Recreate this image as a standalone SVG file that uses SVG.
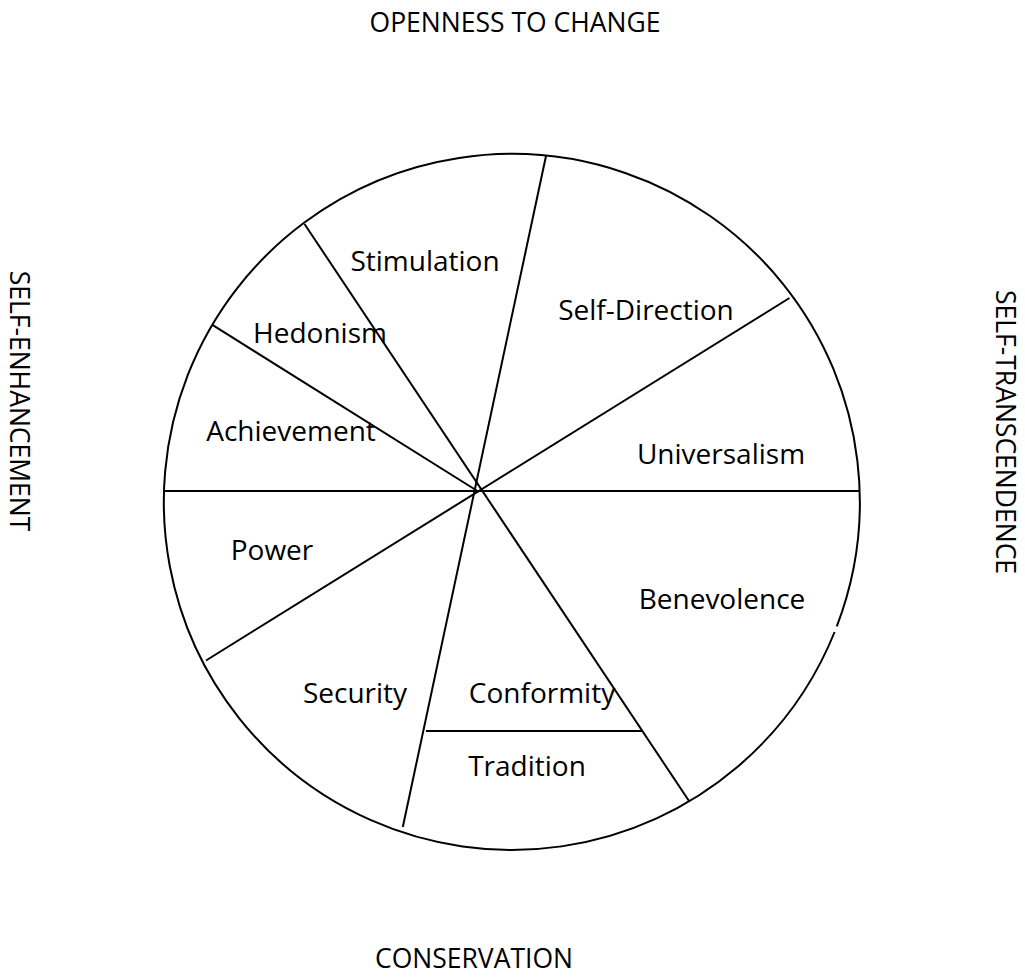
<svg xmlns="http://www.w3.org/2000/svg" width="1025" height="979" viewBox="0 0 1025 979">
  <style>
    .ln { stroke: #000; stroke-width: 2; fill: none; stroke-linecap: butt; }
    .lbl { font-family: "Open Sans", "Liberation Sans", sans-serif; font-size: 28px; fill: #000; text-anchor: middle; }
    .hdr { font-family: "Open Sans", "Liberation Sans", sans-serif; font-size: 26.5px; fill: #000; text-anchor: middle; }
  </style>
  <rect width="1025" height="979" fill="#fff"/>
  <g id="circle">
    <path class="ln" d="M 834.6 632.0 A 348 348 0 1 1 836.8 626.4"/>
  </g>
  <g id="connectors">
    <line class="ln" x1="163.7" y1="491" x2="859.3" y2="491"/>
    <line class="ln" x1="546" y1="156" x2="402.8" y2="827"/>
    <line class="ln" x1="304.5" y1="224" x2="689.2" y2="801.3"/>
    <line class="ln" x1="789.5" y1="298" x2="206" y2="660.5"/>
    <line class="ln" x1="212.4" y1="324.9" x2="479" y2="492"/>
    <line class="ln" x1="426" y1="731" x2="642.3" y2="731"/>
  </g>
  <g id="openness"><text class="hdr" x="515" y="32">OPENNESS TO CHANGE</text></g>
  <g id="conservation"><text class="hdr" x="474" y="968">CONSERVATION</text></g>
  <g id="self-enhancement"><text class="hdr" transform="translate(10,401) rotate(90)">SELF-ENHANCEMENT</text></g>
  <g id="self-transcendence"><text class="hdr" transform="translate(996,432) rotate(90)">SELF-TRANSCENDENCE</text></g>
  <g id="stimulation"><text class="lbl" x="425" y="271">Stimulation</text></g>
  <g id="self-direction"><text class="lbl" x="646" y="320">Self-Direction</text></g>
  <g id="hedonism"><text class="lbl" x="320" y="343">Hedonism</text></g>
  <g id="achievement"><text class="lbl" x="291" y="441">Achievement</text></g>
  <g id="universalism"><text class="lbl" x="721" y="464">Universalism</text></g>
  <g id="power"><text class="lbl" x="272" y="560">Power</text></g>
  <g id="benevolence"><text class="lbl" x="722" y="609">Benevolence</text></g>
  <g id="security"><text class="lbl" x="355" y="703">Security</text></g>
  <g id="conformity"><text class="lbl" x="542" y="703">Conformity</text></g>
  <g id="tradition"><text class="lbl" x="527" y="776">Tradition</text></g>
</svg>
